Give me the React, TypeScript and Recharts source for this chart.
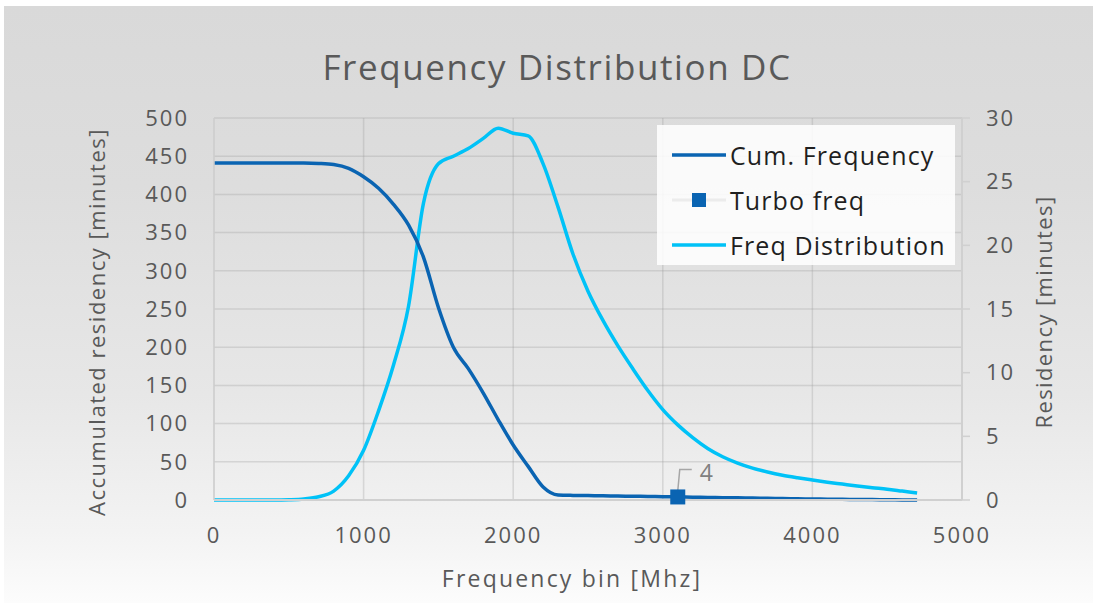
import React from 'react';
import { ComposedChart, Line, Scatter, XAxis, YAxis, CartesianGrid, Legend } from 'recharts';

const freqBins = [0, 100, 200, 300, 400, 500, 600, 700, 800, 900, 1000, 1100, 1200, 1300, 1400, 1500, 1600, 1700, 1800, 1900, 2000, 2100, 2200, 2300, 2400, 2500, 2600, 2700, 2800, 2900, 3000, 3100, 3200, 3300, 3400, 3500, 3600, 3700, 3800, 3900, 4000, 4100, 4200, 4300, 4400, 4500, 4600, 4700];
const cumFrequency = [441, 441, 441, 441, 441, 441, 441, 440.5, 439, 434, 423, 408, 387, 360, 318, 252, 200, 172, 140, 105, 72, 44, 17, 6.5, 6, 5.8, 5.5, 5.2, 4.9, 4.6, 4.3, 4, 3.7, 3.4, 3.1, 2.8, 2.5, 2.2, 1.9, 1.6, 1.35, 1.1, 0.9, 0.7, 0.5, 0.3, 0.15, 0.05];
const freqDistribution = [0, 0, 0, 0, 0, 0.02, 0.08, 0.25, 0.7, 1.9, 3.9, 7.0, 10.6, 15.2, 23.3, 26.4, 27, 27.6, 28.4, 29.2, 28.8, 28.6, 26.4, 23.0, 19.3, 16.4, 14.1, 12.1, 10.3, 8.6, 7.1, 5.9, 4.9, 4.05, 3.4, 2.9, 2.5, 2.2, 1.95, 1.75, 1.57, 1.4, 1.25, 1.1, 0.97, 0.85, 0.7, 0.55];
const turboFreq = [3100];
const turboValue = [4];
const xTicks = [0, 1000, 2000, 3000, 4000, 5000];
const leftTicks = [0, 50, 100, 150, 200, 250, 300, 350, 400, 450, 500];
const rightTicks = [0, 5, 10, 15, 20, 25, 30];

const data = freqBins.map((f, i) => ({ freq: f, cum: cumFrequency[i], dist: freqDistribution[i] }));
const turboData = turboFreq.map((f, i) => ({ freq: f, turbo: turboValue[i] }));

const CUM_COLOR = '#0a64b2';
const DIST_COLOR = '#00c2f7';
const FONT = '"Open Sans", sans-serif';
const TEXT = '#595959';

const TurboShape = (props: any) => {
  const { cx, cy, payload } = props;
  if (cx == null || cy == null) return null;
  return (
    <g>
      <polyline
        points={`${cx},${cy - 6} ${cx + 2},${cy - 27.5} ${cx + 14},${cy - 27.5}`}
        fill="none"
        stroke="#a6a6a6"
        strokeWidth={1.5}
      />
      <rect x={cx - 7.5} y={cy - 7.5} width={15} height={15} fill={CUM_COLOR} />
      <text x={cx + 22} y={cy - 15.5} fontSize={23} fontFamily={FONT} fill="#808080">
        {payload.turbo}
      </text>
    </g>
  );
};

const LegendBox = () => {
  const rows = [
    { name: 'Cum. Frequency', type: 'line', color: CUM_COLOR },
    { name: 'Turbo freq', type: 'square', color: CUM_COLOR },
    { name: 'Freq Distribution', type: 'line', color: DIST_COLOR },
  ];
  return (
    <div
      style={{
        width: 298,
        height: 140,
        background: 'rgba(255,255,255,0.86)',
        position: 'relative',
        fontFamily: FONT,
      }}
    >
      {rows.map((r, i) => (
        <div
          key={r.name}
          style={{ position: 'absolute', left: 0, top: 30 + i * 45 - 20, height: 40, width: 298 }}
        >
          <svg width={70} height={40} style={{ position: 'absolute', left: 0, top: 0 }}>
            {r.type === 'line' ? (
              <line x1={15} y1={20} x2={69} y2={20} stroke={r.color} strokeWidth={3.5} />
            ) : (
              <g>
                <line x1={15} y1={20} x2={69} y2={20} stroke="#ececec" strokeWidth={3} />
                <rect x={35} y={13} width={14} height={14} fill={r.color} />
              </g>
            )}
          </svg>
          <div
            style={{
              position: 'absolute',
              left: 73,
              top: 0,
              height: 40,
              lineHeight: '40px',
              fontSize: 25,
              letterSpacing: 1.1,
              color: '#1f1f1f',
              whiteSpace: 'nowrap',
            }}
          >
            {r.name}
          </div>
        </div>
      ))}
    </div>
  );
};

const LeftTitle = () => (
  <text
    x={96}
    y={322}
    transform="rotate(-90, 96, 322)"
    textAnchor="middle"
    dominantBaseline="central"
    fontSize={22}
    letterSpacing={1.5}
    fontFamily={FONT}
    fill={TEXT}
  >
    Accumulated residency [minutes]
  </text>
);

const RightTitle = () => (
  <text
    x={1043}
    y={312}
    transform="rotate(-90, 1043, 312)"
    textAnchor="middle"
    dominantBaseline="central"
    fontSize={22}
    letterSpacing={1.4}
    fontFamily={FONT}
    fill={TEXT}
  >
    Residency [minutes]
  </text>
);

const BottomTitle = () => (
  <text
    x={572}
    y={578}
    textAnchor="middle"
    dominantBaseline="central"
    fontSize={23}
    letterSpacing={2.2}
    fontFamily={FONT}
    fill={TEXT}
  >
    Frequency bin [Mhz]
  </text>
);

const tickStyle = { fontSize: 22, fontFamily: FONT, fill: TEXT, letterSpacing: 2 };

export default function App() {
  return (
    <div style={{ position: 'absolute', left: 0, top: 0, width: 1097, height: 603, background: '#ffffff', overflow: 'hidden' }}>
      <div
        style={{
          position: 'absolute',
          left: 4,
          top: 6,
          width: 1089,
          height: 597,
          background: 'linear-gradient(to bottom, #d9d9d9 0%, #dddddd 30%, #e7e7e7 65%, #f3f3f3 88%, #fcfcfc 100%)',
        }}
      />
      <div
        style={{
          position: 'absolute',
          left: 557,
          top: 49,
          transform: 'translateX(-50%)',
          fontFamily: FONT,
          fontSize: 35,
          letterSpacing: 1.6,
          lineHeight: '35px',
          color: TEXT,
          whiteSpace: 'nowrap',
        }}
      >
        Frequency Distribution DC
      </div>
      <div style={{ position: 'absolute', left: 0, top: 0 }}>
        <ComposedChart
          width={1097}
          height={603}
          data={data}
          margin={{ top: 118, right: 55, bottom: 53, left: 134 }}
        >
          <CartesianGrid yAxisId="left" stroke="#9a9a9a" strokeOpacity={0.3} strokeWidth={1.5} />
          <XAxis
            dataKey="freq"
            type="number"
            domain={[0, 5000]}
            ticks={xTicks}
            interval={0}
            tickLine={false}
            tickSize={0}
            tickMargin={27}
            height={50}
            axisLine={{ stroke: '#d0d0d0', strokeWidth: 2 }}
            tick={tickStyle}
            label={<BottomTitle />}
          />
          <YAxis
            yAxisId="left"
            domain={[0, 500]}
            ticks={leftTicks}
            interval={0}
            width={80}
            tickLine={false}
            tickSize={0}
            tickMargin={25}
            axisLine={{ stroke: '#d0d0d0', strokeWidth: 1.5 }}
            tick={tickStyle}
            label={<LeftTitle />}
          />
          <YAxis
            yAxisId="right"
            orientation="right"
            domain={[0, 30]}
            ticks={rightTicks}
            interval={0}
            width={80}
            tickLine={{ stroke: '#d0d0d0', strokeWidth: 1.5 }}
            tickSize={8}
            tickMargin={16}
            axisLine={{ stroke: '#d0d0d0', strokeWidth: 2 }}
            tick={{ ...tickStyle, textAnchor: 'start' }}
            label={<RightTitle />}
          />
          <Legend
            layout="horizontal"
            verticalAlign="middle"
            align="center"
            content={<LegendBox />}
            wrapperStyle={{ position: 'absolute', left: 657, top: 125, width: 298, height: 140 }}
          />
          <Line
            yAxisId="right"
            type="monotone"
            dataKey="dist"
            name="Freq Distribution"
            stroke={DIST_COLOR}
            strokeWidth={3.5}
            dot={false}
            isAnimationActive={false}
          />
          <Line
            yAxisId="left"
            type="monotone"
            dataKey="cum"
            name="Cum. Frequency"
            stroke={CUM_COLOR}
            strokeWidth={3.5}
            dot={false}
            isAnimationActive={false}
          />
          <Scatter
            yAxisId="left"
            data={turboData}
            dataKey="turbo"
            name="Turbo freq"
            fill={CUM_COLOR}
            shape={<TurboShape />}
            isAnimationActive={false}
          />
        </ComposedChart>
      </div>
    </div>
  );
}
